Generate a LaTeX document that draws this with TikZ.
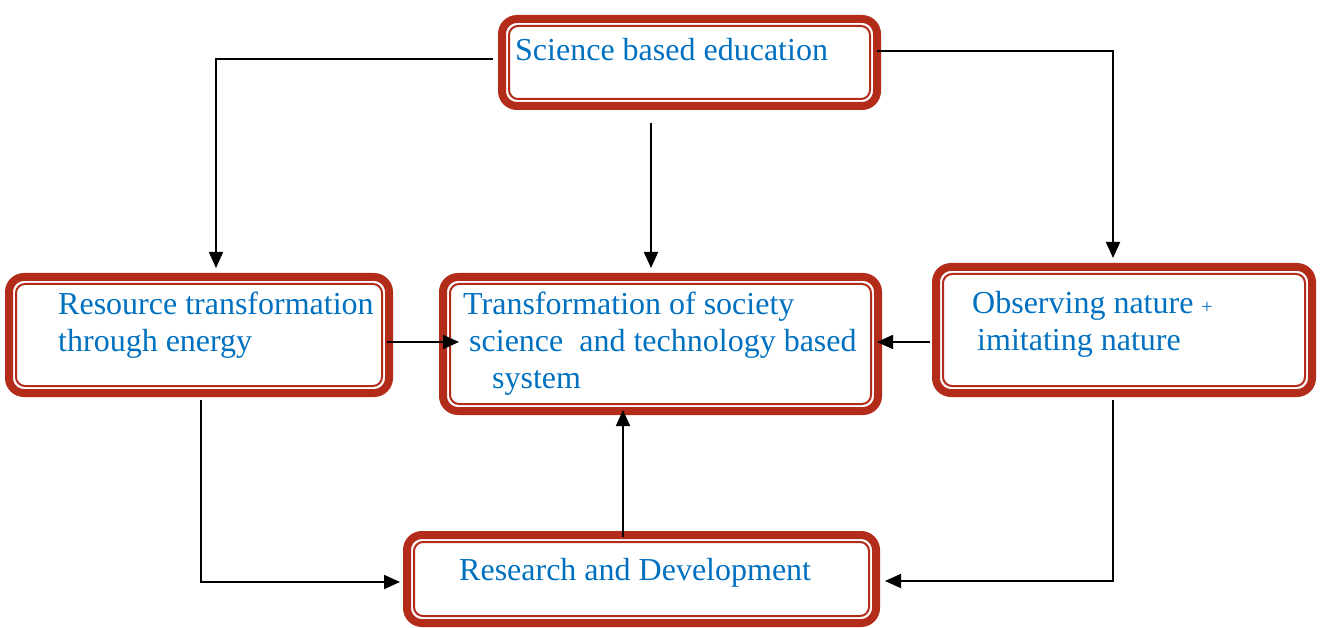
\documentclass[tikz,border=0pt]{standalone}
\usepackage{fontspec}
\setmainfont{Liberation Serif}
\usepackage{xcolor}
\usepackage{tikz}
\usetikzlibrary{arrows.meta}
\definecolor{boxred}{RGB}{179,43,25}
\definecolor{txtblue}{RGB}{0,112,192}

\begin{document}
\begin{tikzpicture}[x=1pt, y=-1pt,
        blk/.style={draw=boxred, line width=8pt, rounded corners=15pt, inner sep=0pt, outer sep=0pt},
        txt/.style={anchor=base west, inner sep=0pt, align=left, text=txtblue,
        font=\fontsize{32}{37}\selectfont},
        arr/.style={-{Triangle[length=16pt,width=14pt]}, line width=1.8pt}]
        \useasboundingbox (0,0) rectangle (1322,628);
        \node[blk, minimum width=375pt, minimum height=87pt] (sci) at (689.5,62.5) {};
        \node[blk, minimum width=380pt, minimum height=116pt] (res) at (199,335) {};
        \node[blk, minimum width=435pt, minimum height=134pt] (soc) at (660.5,344) {};
        \node[blk, minimum width=376pt, minimum height=126pt] (obs) at (1124,330) {};
        \node[blk, minimum width=469pt, minimum height=88pt] (rnd) at (641.5,579) {};
        \foreach \b in {sci,res,soc,obs,rnd}
        \draw[boxred, line width=2pt, rounded corners=9pt] 
        ([shift={(7pt,-7pt)}]\b.north west) rectangle ([shift={(-7pt,7pt)}]\b.south east);
        % multi-line labels sit on their last baseline
        \node[txt] (sciT) at (515,61) {Science based education};
        \node[txt] (resT) at (58,351) {Resource transformation\\through energy};
        \node[txt] (socT) at (463,388) {Transformation of society\\
        \hspace*{6pt}science\ \ and technology based\\\hspace*{29pt}system};
        \node[txt] (obsT) at (972,350) {Observing nature {\fontsize{20}{20}\selectfont+}\\
        \hspace*{5pt}imitating nature};
        \node[txt] (rndT) at (459,580) {Research and Development};
        \draw[arr, shorten <=9pt, shorten >=9pt] ([yshift=3.5pt]sci.west) -| ([xshift=17pt]res.north);
        \draw[arr, shorten >=9pt] ([yshift=11.5pt]sci.east) -| ([xshift=-11pt]obs.north);
        \draw[arr, shorten <=17pt, shorten >=9pt] 
        ([xshift=-9.5pt]soc.north |- sci.south) -- ([xshift=-9.5pt]soc.north);
        \draw[arr, shorten <=-2pt, shorten >=-16pt] 
        ([yshift=-7pt]res.east) -- ([yshift=-7pt]res.east -| soc.west);
        \draw[arr, shorten <=6pt, shorten >=-1pt] 
        ([yshift=-12pt]obs.west) -- ([yshift=-12pt]obs.west -| soc.east);
        \draw[arr, shorten <=-2pt, shorten >=-1pt] 
        ([xshift=-18.5pt]rnd.north) -- ([xshift=-18.5pt]rnd.north |- soc.south);
        \draw[arr, shorten <=7pt, shorten >=7pt] ([xshift=2pt]res.south) |- ([yshift=-3pt]rnd.west);
        \draw[arr, shorten <=7pt, shorten >=9pt] ([xshift=-11pt]obs.south) |- ([yshift=-2pt]rnd.east);
    \end{tikzpicture}
\end{document}
